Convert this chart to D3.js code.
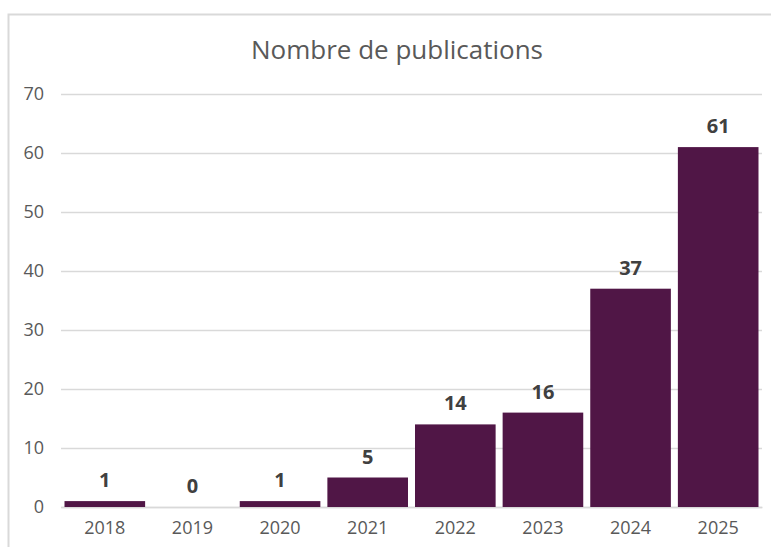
<!DOCTYPE html>
<html>
<head>
<meta charset="utf-8">
<script src="https://cdn.jsdelivr.net/npm/d3@7"></script>
<style>
  body { margin: 0; background: #fff; }
  svg { display: block; font-family: "Open Sans", sans-serif; }
</style>
</head>
<body>
<div class="canvas"></div>
<script>
var years = ["2018", "2019", "2020", "2021", "2022", "2023", "2024", "2025"];
var publications = [1, 0, 1, 5, 14, 16, 37, 61];
var yTicks = [0, 10, 20, 30, 40, 50, 60, 70];

var width = 771,
    height = 547;

var svg = d3.select(".canvas").append("svg")
    .attr("width", width)
    .attr("height", height);

// chart area border (runs off the right/bottom edge like the screenshot)
svg.append("rect")
    .attr("x", 8.5).attr("y", 14.5)
    .attr("width", 780).attr("height", 560)
    .attr("fill", "#fff")
    .attr("stroke", "#d9d9d9")
    .attr("stroke-width", 2);

var x = d3.scaleBand()
    .domain(years)
    .range([61, 762])
    .paddingInner(0.08)
    .paddingOuter(0.04);

var y = d3.scaleLinear()
    .domain([0, 70])
    .range([507, 94]);

svg.append("text")
    .attr("x", 397).attr("y", 59)
    .attr("text-anchor", "middle")
    .attr("fill", "#595959")
    .style("font-size", "26px")
    .text("Nombre de publications");

// gridlines + y labels
var yAxis = svg.append("g")
    .attr("transform", "translate(61,0)")
    .call(d3.axisLeft(y).tickValues(yTicks).tickSize(-701).tickPadding(17));
yAxis.select(".domain").remove();
yAxis.selectAll(".tick line").attr("stroke", "#d9d9d9").attr("stroke-width", 1.5);
yAxis.selectAll(".tick text")
    .attr("fill", "#595959")
    .attr("font-size", 18)
    .style("font-family", "Open Sans, sans-serif");

var xAxis = svg.append("g")
    .attr("transform", "translate(0,507)")
    .call(d3.axisBottom(x).tickSize(0).tickPadding(14));
xAxis.select(".domain").attr("stroke", "#d9d9d9").attr("stroke-width", 1.5);
xAxis.selectAll(".tick text")
    .attr("fill", "#595959")
    .attr("font-size", 18)
    .style("font-family", "Open Sans, sans-serif");

var data = years.map((d, i) => ({ year: d, value: publications[i] }));

svg.selectAll(".bar")
    .data(data)
  .enter().append("rect")
    .attr("class", "bar")
    .attr("x", d => x(d.year))
    .attr("y", d => y(d.value))
    .attr("width", x.bandwidth())
    .attr("height", d => y(0) - y(d.value))
    .attr("fill", "#501646");

svg.selectAll(".label")
    .data(data)
  .enter().append("text")
    .attr("class", "label")
    .attr("x", d => x(d.year) + x.bandwidth() / 2)
    .attr("y", d => y(d.value) - 14)
    .attr("text-anchor", "middle")
    .attr("fill", "#404040")
    .style("font-size", "20px")
    .style("font-weight", "bold")
    .text(d => d.value);
</script>
</body>
</html>
